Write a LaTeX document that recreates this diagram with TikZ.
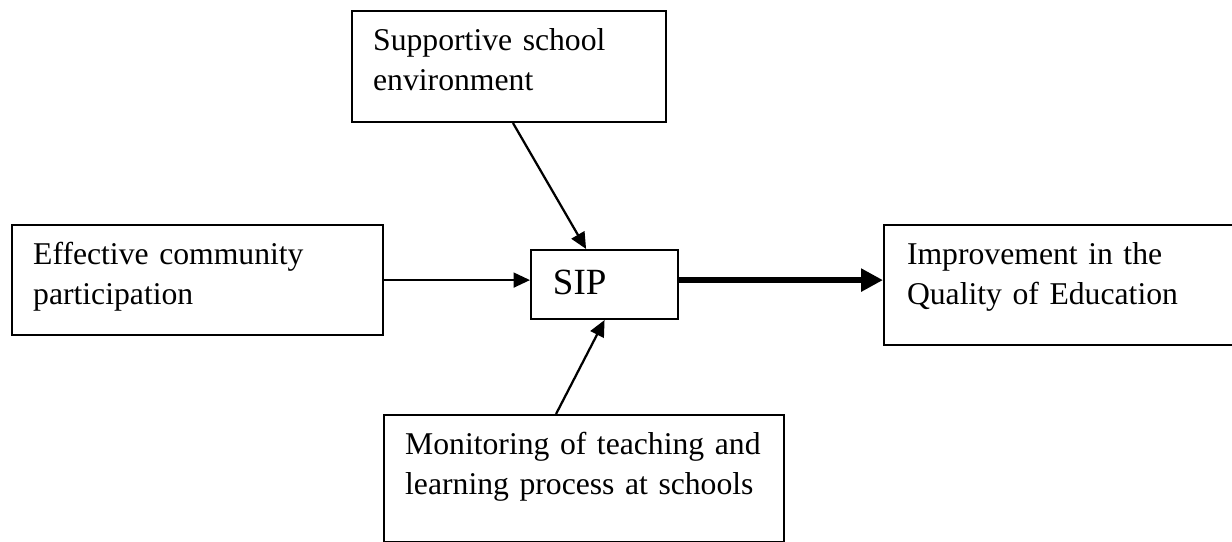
\documentclass[tikz,border=0pt]{standalone}
\usepackage{fontspec}
\setmainfont{Liberation Serif}
\usetikzlibrary{arrows.meta}

\begin{document}
\begin{tikzpicture}
    [
        x=0.3788pt,
        y=-0.3788pt,
        factor/.style={
                draw=black,
                line width=0.8pt,
                anchor=north west,
                align=left,
                inner xsep=8pt,
                inner ysep=0pt,
                text height=15pt,
                text width=#1,
                font=\fontsize{12}{15.2}\selectfont,
            },
        link/.style={
                -{Triangle[length=6.2pt,width=5.6pt]},
                line width=0.85pt,
            },
        mainlink/.style={
                -{Triangle[length=8.3pt,width=8.3pt]},
                line width=2.5pt,
            },
    ]
    \useasboundingbox (0,0) rectangle (1232,542);

    % factors around the plan
    \node [factor=102.9pt, text depth=27pt] (supp) at (351,10) {Supportive school\\environment};
    \node [factor=124.5pt, text depth=26.7pt] (commun) at (11,224) {Effective community\\participation};
    \node [factor=39.1pt, text height=17pt, text depth=9.1pt, inner xsep=8.3pt,
        font=\fontsize{14}{16}\selectfont] (sip) at (530,249) {SIP};
    \node [factor=118.5pt, text depth=30.5pt, inner xsep=8.7pt] (quality) at (883,224) {Improvement in the\\Quality of Education};
    \node [factor=135.5pt, text depth=33.1pt] (monit) at (383,414) {Monitoring of teaching and\\learning process at schools};

    % inputs into SIP
    \draw [link] (commun.east) -- (commun.east -| sip.west);
    \draw [link] ([xshift=1.5pt]supp.south) -- ([xshift=-7pt]sip.north);
    \draw [link] ([xshift=-10.6pt]monit.north) -- (sip.south);

    % outcome
    \draw [mainlink] (sip.east |- commun.east) -- (quality.west |- commun.east);
\end{tikzpicture}
\end{document}
